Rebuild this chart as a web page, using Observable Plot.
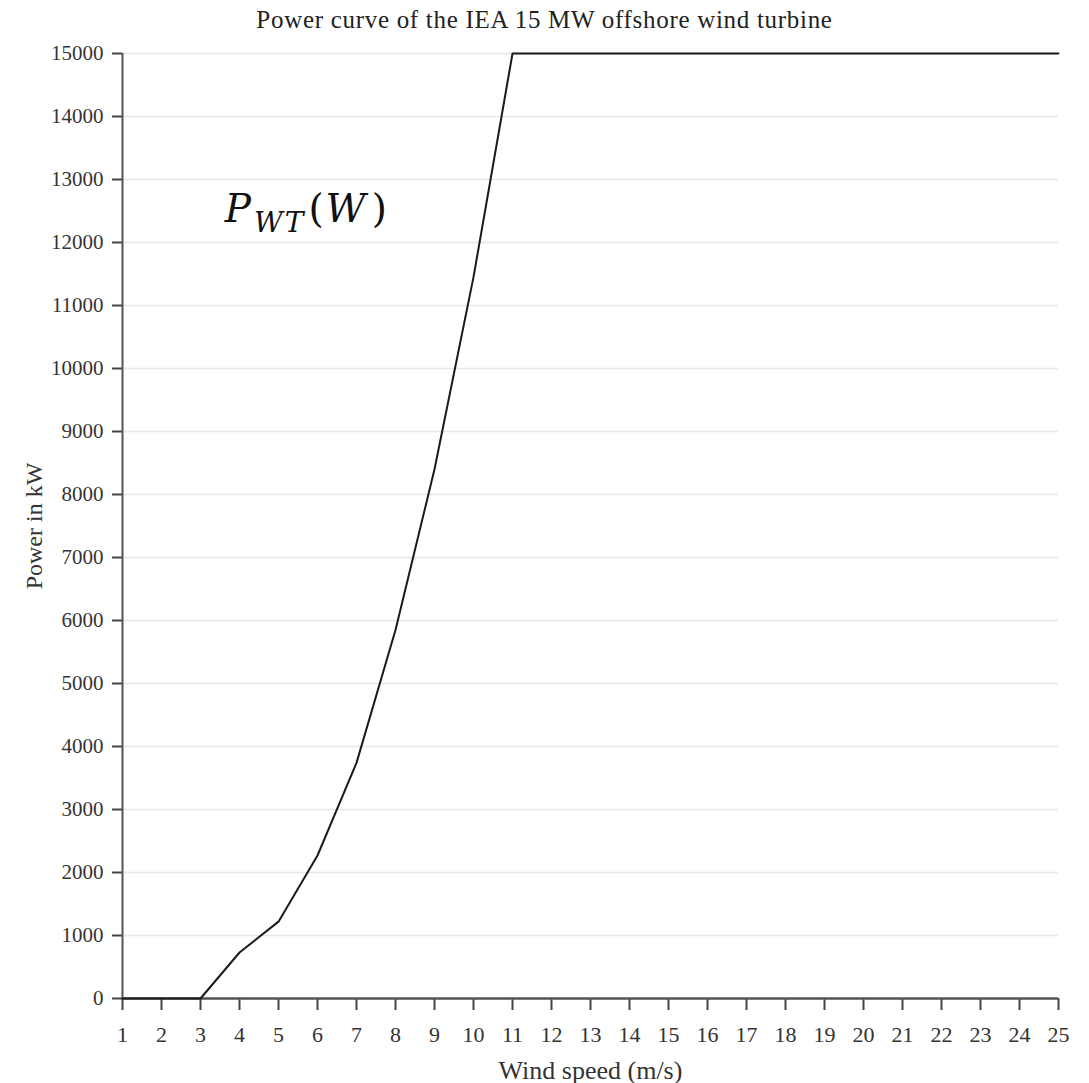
<!DOCTYPE html>
<html>
<head>
<meta charset="utf-8">
<script src="https://cdn.jsdelivr.net/npm/d3@7"></script>
<script src="https://cdn.jsdelivr.net/npm/@observablehq/plot@0.6"></script>
<style>
  body { margin: 0; background: #fff; }
  #title { width: 1089px; height: 40px; line-height: 40px; text-align: center;
           font-family: "Liberation Serif", serif; font-size: 25px; letter-spacing: 0.7px; color: #222; }
</style>
</head>
<body>
<div id="title">Power curve of the IEA 15 MW offshore wind turbine</div>
<div id="chart"></div>
<script>
// Wind speed (m/s) and power output (kW)
const windSpeed = [1, 2, 3, 4, 5, 6, 7, 8, 9, 10, 11, 12, 13, 14, 15, 16, 17, 18, 19, 20, 21, 22, 23, 24, 25];
const powerKW   = [0, 0, 0, 730, 1220, 2270, 3740, 5850, 8400, 11450, 15000, 15000, 15000, 15000, 15000, 15000, 15000, 15000, 15000, 15000, 15000, 15000, 15000, 15000, 15000];
const xTicks = d3.range(1, 26);
const yTicks = d3.range(0, 15001, 1000);
const annotation = [{ speed: 3.62, power: 12330, label: "PWT(W)" }];

const data = windSpeed.map((w, i) => ({ w, p: powerKW[i] }));
const serif = "'Liberation Serif', 'Times New Roman', serif";

const chart = Plot.plot({
  width: 1089,
  height: 1043,
  marginTop: 13,
  marginLeft: 122,
  marginRight: 31,
  marginBottom: 85,
  style: { fontFamily: serif, fontSize: "21px", color: "#333", background: "#fff" },
  x: { domain: [1, 25] },
  y: { domain: [0, 15000] },
  marks: [
    Plot.gridY(yTicks, { stroke: "#e6e6e6", strokeOpacity: 1, strokeWidth: 1.6 }),
    Plot.axisY(yTicks, { tickSize: 10, tickPadding: 9, tickFormat: d => String(d), stroke: "#444", strokeWidth: 2, fontSize: 21 }),
    Plot.axisY({ ticks: [], label: "Power in kW", labelAnchor: "center", labelArrow: "none", labelOffset: 98, fontSize: 24 }),
    Plot.axisX(xTicks, { tickSize: 12, tickPadding: 16, tickFormat: d => String(d), stroke: "#444", strokeWidth: 2, fontSize: 22 }),
    Plot.axisX({ ticks: [], label: "Wind speed (m/s)", labelAnchor: "center", labelArrow: "none", labelOffset: 80, fontSize: 26 }),
    Plot.ruleX([1], { stroke: "#555", strokeWidth: 2 }),
    Plot.ruleY([0], { stroke: "#555", strokeWidth: 2.5 }),
    Plot.line(data, { x: "w", y: "p", stroke: "#1a1a1a", strokeWidth: 2 }),
    Plot.text(annotation, { x: "speed", y: "power", text: "label", textAnchor: "start", lineAnchor: "bottom",
      fontSize: 39, fontStyle: "italic", fontFamily: "'DejaVu Serif', serif", fill: "#111" })
  ]
});
document.getElementById("chart").appendChild(chart);

// Format the annotation as P with subscript WT followed by (W)
chart.querySelectorAll("text").forEach(t => {
  if (t.textContent === "PWT(W)") {
    t.textContent = "";
    t.setAttribute("letter-spacing", "2");
    const ns = "http://www.w3.org/2000/svg";
    const add = (s, attrs) => {
      const ts = document.createElementNS(ns, "tspan");
      ts.textContent = s;
      for (const k in attrs) ts.setAttribute(k, attrs[k]);
      t.appendChild(ts);
    };
    add("P", {});
    add("WT", { "font-size": 28, dy: 10, dx: 1 });
    add("(", { "font-style": "normal", dy: -10, dx: 3 });
    add("W", {});
    add(")", { "font-style": "normal", dx: 4 });
  }
});
</script>
</body>
</html>
